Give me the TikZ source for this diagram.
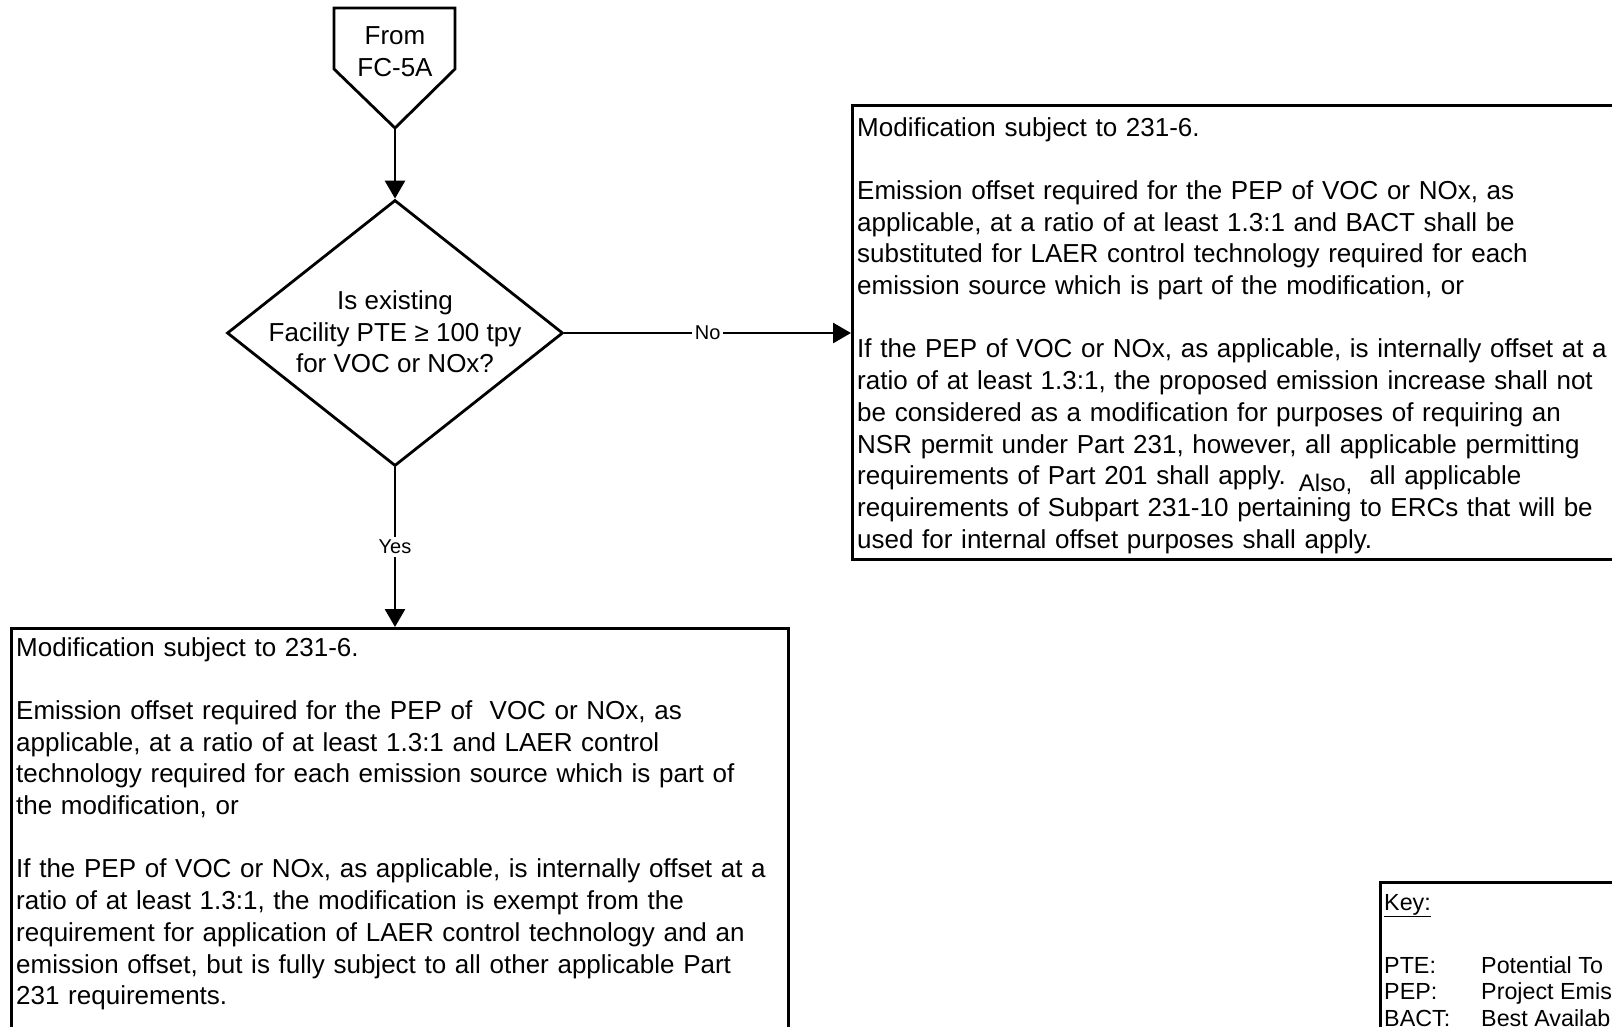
\documentclass[tikz,border=0pt]{standalone}
\usepackage{fontspec}
\setmainfont{Liberation Sans}
\usetikzlibrary{shapes.geometric,arrows.meta}
\newcommand\fsmain{\fontsize{26}{31.7}\selectfont}
\newcommand\fslabel{\fontsize{20}{24}\selectfont}
\newcommand\fskey{\fontsize{23.3}{26.5}\selectfont}
\begin{document}
\begin{tikzpicture}[x=1pt,y=-1pt,
  box/.style={draw, line width=2.8pt, rectangle, anchor=north west, inner sep=0pt},
  txt/.style={anchor=base west, inner sep=0pt, align=left, font=\fsmain},
  conn/.style={line width=2.8pt, -{Triangle[length=18pt,width=20pt]}},
  lbl/.style={midway, fill=white, inner sep=3pt, font=\fslabel}]
\useasboundingbox (0,0) rectangle (1612,1026);
\clip (0,0) rectangle (1612,1026);

% off-page connector
\draw[line width=2.8pt, line join=miter] (334,8) -- (455,8) -- (455,69) -- (395,128) -- (334,69) -- cycle;
\coordinate (fromtip) at (395,128);
\node[font=\fsmain, align=center, inner sep=0pt] (fromtxt) at (395,52) {From\\FC-5A};

% decision
\node[draw, diamond, line width=2.8pt, minimum width=336pt, minimum height=266pt, inner sep=0pt] (dec) at (395,333) {};
\node[font=\fsmain, align=center, inner sep=0pt] (dectxt) at (395,332) {Is existing\\Facility PTE ≥ 100 tpy\\for VOC or NOx?};

% right box
\node[box, minimum width=900pt, minimum height=454pt] (rbox) at (851,104) {};
\node[txt, text width=820pt] (rtxt) at (857,136) {Modification subject to 231-6.\\[31.7pt]
Emission offset required for the PEP of VOC or NOx, as\\
applicable, at a ratio of at least 1.3:1 and BACT shall be\\
substituted for LAER control technology required for each\\
emission source which is part of the modification, or\\[31.7pt]
If the PEP of VOC or NOx, as applicable, is internally offset at a\\
ratio of at least 1.3:1, the proposed emission increase shall not\\
be considered as a modification for purposes of requiring an\\
NSR permit under Part 231, however, all applicable permitting\\
requirements of Part 201 shall apply. \raisebox{-7pt}{\fontsize{24}{24}\selectfont Also,}\ \ all applicable\\
requirements of Subpart 231-10 pertaining to ERCs that will be\\
used for internal offset purposes shall apply.};

% bottom box
\node[box, minimum width=777pt, minimum height=500pt] (bbox) at (10,627) {};
\node[txt, text width=820pt] (btxt) at (16,656) {Modification subject to 231-6.\\[31.7pt]
Emission offset required for the PEP of\ \ VOC or NOx, as\\
applicable, at a ratio of at least 1.3:1 and LAER control\\
technology required for each emission source which is part of\\
the modification, or\\[31.7pt]
If the PEP of VOC or NOx, as applicable, is internally offset at a\\
ratio of at least 1.3:1, the modification is exempt from the\\
requirement for application of LAER control technology and an\\
emission offset, but is fully subject to all other applicable Part\\
231 requirements.};

% key box
\node[box, minimum width=400pt, minimum height=300pt] (keybox) at (1379,881) {};
\node[anchor=base west, inner sep=0pt, font=\fskey] (keyttl) at (1384,910) {\underline{Key:}};
\node[anchor=base west, inner sep=0pt, font=\fskey] (keylist) at (1384,973)
  {\begin{tabular}[t]{@{}p{97pt}@{}l@{}}
   PTE: & Potential To\\
   PEP: & Project Emis\\
   BACT: & Best Availab
   \end{tabular}};

% connectors
\draw[conn] (fromtip) -- (dec.north);
\draw[conn] (dec.east) -- (dec.east -| rbox.west) node[lbl] (nolbl) {No};
\draw[conn] (dec.south) -- (dec.south |- bbox.north) node[lbl] (yeslbl) {Yes};
\end{tikzpicture}
\end{document}
